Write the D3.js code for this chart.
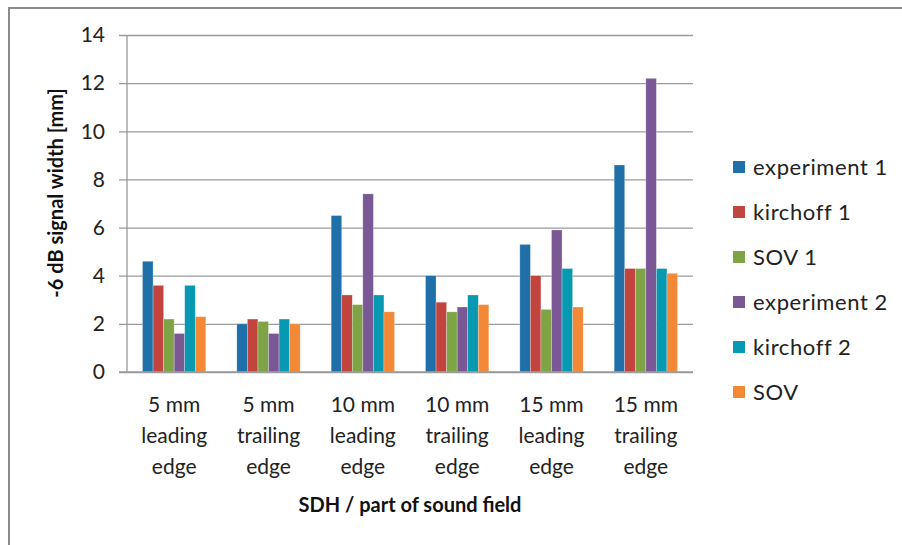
<!DOCTYPE html>
<html>
<head>
<meta charset="utf-8">
<script src="https://cdn.jsdelivr.net/npm/d3@7"></script>
<style>
  html, body { margin: 0; padding: 0; background: #fff; }
  svg { display: block; font-family: Lato, "Open Sans", sans-serif; }
</style>
</head>
<body>
<svg id="chart" width="902" height="545"></svg>
<script>
// Categories (x axis), each label split over three lines
const categories = [
  ["5 mm", "leading", "edge"],
  ["5 mm", "trailing", "edge"],
  ["10 mm", "leading", "edge"],
  ["10 mm", "trailing", "edge"],
  ["15 mm", "leading", "edge"],
  ["15 mm", "trailing", "edge"]
];

const seriesNames = ["experiment 1", "kirchoff 1", "SOV 1", "experiment 2", "kirchoff 2", "SOV"];
const seriesColors = ["#1f6fa8", "#c2443f", "#7ea446", "#7a5795", "#0799b2", "#f38836"];

// -6 dB signal width [mm] per series, one value per category
const experiment1 = [4.6, 2.0, 6.5, 4.0, 5.3, 8.6];
const kirchoff1   = [3.6, 2.2, 3.2, 2.9, 4.0, 4.3];
const sov1        = [2.2, 2.1, 2.8, 2.5, 2.6, 4.3];
const experiment2 = [1.6, 1.6, 7.4, 2.7, 5.9, 12.2];
const kirchoff2   = [3.6, 2.2, 3.2, 3.2, 4.3, 4.3];
const sov         = [2.3, 2.0, 2.5, 2.8, 2.7, 4.1];

const yTicks = [0, 2, 4, 6, 8, 10, 12, 14];

const seriesValues = [experiment1, kirchoff1, sov1, experiment2, kirchoff2, sov];

const svg = d3.select("#chart");

// Chart frame
svg.append("path")
  .attr("d", "M9,545 V8 H902")
  .attr("fill", "none")
  .attr("stroke", "#8a8a8a")
  .attr("stroke-width", 2);

const plot = { left: 127, right: 693, top: 35, bottom: 372 };

const x = d3.scaleBand()
  .domain(d3.range(categories.length))
  .range([plot.left, plot.right])
  .padding(0);

const gap = 31;
const xInner = d3.scaleBand()
  .domain(d3.range(seriesNames.length))
  .range([gap / 2, x.bandwidth() - gap / 2])
  .padding(0);

const y = d3.scaleLinear()
  .domain([0, 14])
  .range([plot.bottom, plot.top]);

// Gridlines with outward tick stubs
const yAxis = d3.axisLeft(y)
  .tickValues(yTicks)
  .tickSize(-(plot.right - plot.left))
  .tickPadding(22)
  .tickFormat(d3.format("d"));

const gy = svg.append("g")
  .attr("transform", `translate(${plot.left},0)`)
  .call(yAxis);
gy.select(".domain").remove();
gy.selectAll(".tick line")
  .attr("x1", -8)
  .attr("stroke", "#9a9a9a")
  .attr("stroke-width", 1.3);
gy.selectAll(".tick text")
  .attr("font-size", 21)
  .attr("fill", "#222")
  .attr("font-family", "Lato, sans-serif");

// Vertical axis line
svg.append("line")
  .attr("x1", plot.left).attr("x2", plot.left)
  .attr("y1", plot.top).attr("y2", plot.bottom)
  .attr("stroke", "#9a9a9a")
  .attr("stroke-width", 1.3);

// Bars
const groups = svg.append("g").selectAll("g")
  .data(seriesValues)
  .join("g")
  .attr("fill", (d, i) => seriesColors[i]);

groups.selectAll("rect")
  .data((vals, si) => vals.map((v, ci) => ({ v, ci, si })))
  .join("rect")
  .attr("x", d => x(d.ci) + xInner(d.si))
  .attr("width", xInner.bandwidth())
  .attr("y", d => y(d.v))
  .attr("height", d => y(0) - y(d.v))
  .attr("stroke", "rgba(255,255,255,0.45)")
  .attr("stroke-width", 0.6);

// Baseline
svg.append("line")
  .attr("x1", plot.left - 8).attr("x2", plot.right)
  .attr("y1", y(0)).attr("y2", y(0))
  .attr("stroke", "#9a9a9a")
  .attr("stroke-width", 1.3);

// Category labels
const catG = svg.append("g");
categories.forEach((lines, i) => {
  const t = catG.append("text")
    .attr("x", x(i) + x.bandwidth() / 2)
    .attr("y", 412)
    .attr("text-anchor", "middle")
    .attr("font-size", 21)
    .attr("fill", "#222");
  lines.forEach((ln, k) => {
    t.append("tspan")
      .attr("x", x(i) + x.bandwidth() / 2)
      .attr("dy", k === 0 ? 0 : 31)
      .text(ln);
  });
});

// Axis titles
svg.append("text")
  .attr("x", (plot.left + plot.right) / 2)
  .attr("y", 512)
  .attr("text-anchor", "middle")
  .attr("font-size", 20)
  .attr("font-weight", "bold")
  .attr("fill", "#111")
  .text("SDH / part of sound field");

svg.append("text")
  .attr("transform", "translate(63,193) rotate(-90)")
  .attr("text-anchor", "middle")
  .attr("font-size", 20)
  .attr("font-weight", "bold")
  .attr("fill", "#111")
  .text("-6 dB signal width [mm]");

// Legend
const legend = svg.append("g");
seriesNames.forEach((name, i) => {
  const cy = 167 + i * 45;
  legend.append("rect")
    .attr("x", 733).attr("y", cy - 6)
    .attr("width", 12).attr("height", 12)
    .attr("fill", seriesColors[i]);
  legend.append("text")
    .attr("x", 753).attr("y", cy + 8)
    .attr("font-size", 22)
    .attr("letter-spacing", 0.6)
    .attr("fill", "#222")
    .text(name);
});
</script>
</body>
</html>
